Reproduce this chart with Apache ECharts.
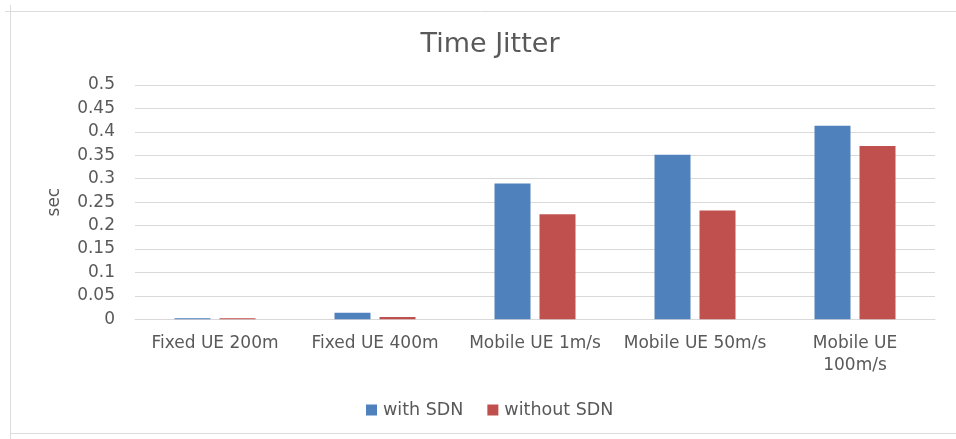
<!DOCTYPE html>
<html>
<head>
<meta charset="utf-8">
<script src="https://cdn.jsdelivr.net/npm/echarts@6/dist/echarts.min.js"></script>
<style>
  html, body { margin: 0; padding: 0; background: #ffffff; }
  #chart { width: 956px; height: 439px; }
</style>
</head>
<body>
<div id="chart"></div>
<script>
// Scenario categories along the x axis
const categories = ['Fixed UE 200m', 'Fixed UE 400m', 'Mobile UE 1m/s', 'Mobile UE 50m/s', 'Mobile UE\n100m/s'];
// Jitter in seconds for each scenario
const withSDN = [0.002, 0.014, 0.290, 0.351, 0.413];
const withoutSDN = [0.002, 0.005, 0.224, 0.232, 0.370];
// Y axis ticks
const yTicks = [0, 0.05, 0.1, 0.15, 0.2, 0.25, 0.3, 0.35, 0.4, 0.45, 0.5];

const chart = echarts.init(document.getElementById('chart'), null, { renderer: 'canvas' });
const textColor = '#595959';
const font = 'DejaVu Sans';

chart.setOption({
  backgroundColor: '#ffffff',
  animation: false,
  title: {
    text: 'Time Jitter',
    left: 485,
    top: 26,
    textAlign: 'center',
    textStyle: { fontFamily: font, fontSize: 27, fontWeight: 'normal', color: textColor }
  },
  legend: {
    data: ['with SDN', 'without SDN'],
    left: 361,
    top: 396,
    itemWidth: 11,
    itemHeight: 11,
    itemGap: 24,
    icon: 'rect',
    textStyle: { fontFamily: font, fontSize: 17.5, color: textColor, padding: [0, 0, 0, 1] }
  },
  grid: { left: 135, right: 21, top: 85, bottom: 119.7 },
  xAxis: {
    type: 'category',
    data: categories,
    axisLine: { lineStyle: { color: '#d9d9d9' } },
    axisTick: { show: false },
    axisLabel: { fontFamily: font, fontSize: 17, color: textColor, margin: 13, lineHeight: 22, interval: 0 }
  },
  yAxis: {
    type: 'value',
    min: yTicks[0],
    max: yTicks[yTicks.length - 1],
    interval: 0.05,
    name: 'sec',
    nameLocation: 'middle',
    nameGap: 72,
    nameTextStyle: { fontFamily: font, fontSize: 17, color: textColor },
    axisLine: { show: false },
    axisTick: { show: false },
    splitLine: { lineStyle: { color: '#d9d9d9', width: 1 } },
    axisLabel: {
      fontFamily: font, fontSize: 17, color: textColor, margin: 20,
      formatter: v => String(parseFloat(v.toFixed(2)))
    }
  },
  series: [
    {
      name: 'with SDN',
      type: 'bar',
      data: withSDN,
      barWidth: 36,
      barGap: '25%',
      itemStyle: { color: '#4F81BD' }
    },
    {
      name: 'without SDN',
      type: 'bar',
      data: withoutSDN,
      barWidth: 36,
      itemStyle: { color: '#C0504D' }
    }
  ],
  graphic: [
    // chart-area frame
    { type: 'line', shape: { x1: 5, y1: 11.5, x2: 956, y2: 11.5 }, style: { stroke: '#dcdcdc', lineWidth: 1 } },
    { type: 'line', shape: { x1: 10.5, y1: 5, x2: 10.5, y2: 439 }, style: { stroke: '#dcdcdc', lineWidth: 1 } },
    { type: 'line', shape: { x1: 10, y1: 433.5, x2: 956, y2: 433.5 }, style: { stroke: '#dcdcdc', lineWidth: 1 } }
  ]
});
</script>
</body>
</html>
